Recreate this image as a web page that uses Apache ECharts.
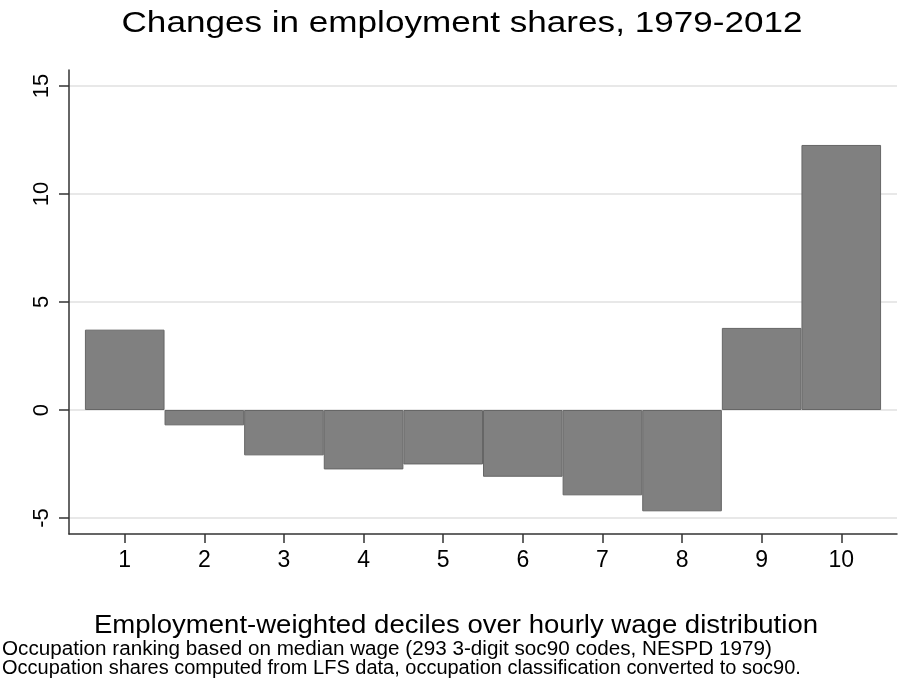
<!DOCTYPE html>
<html>
<head>
<meta charset="utf-8">
<script src="https://cdn.jsdelivr.net/npm/echarts@6/dist/echarts.min.js"></script>
<style>
  html, body { margin: 0; padding: 0; background: #fff; }
  #chart { width: 898px; height: 691px; }
</style>
</head>
<body>
<div id="chart"></div>
<script>
// 数据
const deciles = [1, 2, 3, 4, 5, 6, 7, 8, 9, 10];
const shareChanges = [3.72, -0.71, -2.10, -2.75, -2.52, -3.09, -3.95, -4.69, 3.80, 12.27];
const yTicks = [-5, 0, 5, 10, 15];
const titleText = "Changes in employment shares, 1979-2012";
const xName = "Employment-weighted deciles over hourly wage distribution";
const notes = [
  "Occupation ranking based on median wage (293 3-digit soc90 codes, NESPD 1979)",
  "Occupation shares computed from LFS data, occupation classification converted to soc90."
];

const font = "'Liberation Sans', Arial, Helvetica, sans-serif";
const chart = echarts.init(document.getElementById("chart"));

// 原图文字略宽,用 scaleX 拉伸
const textItem = (text, x, y, size, sx, align) => ({
  type: "text",
  x: x,
  y: y,
  scaleX: sx,
  style: { text: text, font: size + "px " + font, fill: "#000", align: align, verticalAlign: "middle" }
});

let option = {
  animation: false,
  backgroundColor: "#fff",
  grid: { left: 69, right: 1, top: 70, bottom: 157 },
  xAxis: {
    type: "value",
    min: 0.3,
    max: 10.7,
    axisLine: { show: true, onZero: false, lineStyle: { color: "#333", width: 1.5 } },
    axisTick: { show: true, length: 9, customValues: deciles, lineStyle: { color: "#333", width: 1.5 } },
    axisLabel: { customValues: deciles, margin: 15, fontFamily: font, fontSize: 23, color: "#000" },
    splitLine: { show: false }
  },
  yAxis: {
    type: "value",
    min: -5.74,
    max: 15.74,
    axisLine: { show: true, lineStyle: { color: "#333", width: 1.5 } },
    axisTick: { show: true, length: 10, customValues: yTicks, lineStyle: { color: "#333", width: 1.5 } },
    axisLabel: { customValues: yTicks, rotate: 90, margin: 16, fontFamily: font, fontSize: 22, color: "#000" },
    splitLine: { show: true, lineStyle: { color: "#e8e8e8", width: 2 } }
  },
  series: [
    {
      type: "bar",
      barWidth: "100%",
      data: deciles.map((d, i) => [d, shareChanges[i]]),
      itemStyle: { color: "#808080", borderColor: "#666", borderWidth: 1 }
    }
  ],
  graphic: [
    textItem(titleText, 462, 24, 30, 1.17, "center"),
    textItem(xName, 456, 626, 25.5, 1.08, "center"),
    textItem(notes[0], 2, 650, 19.5, 1.06, "left"),
    textItem(notes[1], 2, 669, 19.5, 1.025, "left")
  ]
};
chart.setOption(option);
</script>
</body>
</html>
